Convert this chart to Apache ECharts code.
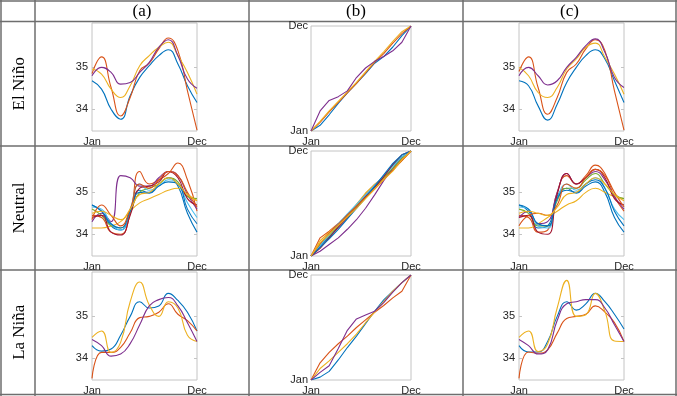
<!DOCTYPE html>
<html>
<head>
<meta charset="utf-8">
<script src="https://cdn.jsdelivr.net/npm/echarts@6/dist/echarts.min.js"></script>
<style>
  html, body { margin: 0; padding: 0; background: #fff; }
  #chart { width: 677px; height: 396px; }
</style>
</head>
<body>
<div id="chart"></div>
<script>
// labels
const colLabels = ['(a)', '(b)', '(c)'];
const rowLabels = ['El Niño', 'Neutral', 'La Niña'];
const monthNames = ['Jan', 'Dec'];
const months = [0, 1, 2, 3, 4, 5, 6, 7, 8, 9, 10, 11];
const salinityTicks = [34, 35];

// El Niño: (a) climatology, (b) time warp, (c) warped
const elNinoA = [
    [34.68, 34.48, 34.00, 33.76, 34.32, 34.76, 35.04, 35.28, 35.42, 35.08, 34.56, 34.16],
    [34.85, 35.25, 34.52, 33.84, 34.28, 34.92, 35.10, 35.44, 35.70, 35.40, 34.44, 33.50],
    [34.96, 34.84, 34.48, 34.28, 34.56, 35.04, 35.28, 35.48, 35.60, 35.28, 34.88, 34.36],
    [34.80, 35.00, 34.88, 34.60, 34.64, 34.88, 35.12, 35.48, 35.66, 35.28, 34.72, 34.50]
];
const elNinoB = [
    [0, 0.6, 1.7, 2.9, 4.0, 5.0, 6.0, 7.1, 7.8, 8.8, 10.0, 11],
    [0, 0.9, 2.0, 3.0, 4.0, 5.0, 6.1, 7.2, 8.1, 9.2, 10.2, 11],
    [0, 1.0, 2.1, 3.1, 4.1, 5.1, 6.2, 7.3, 8.3, 9.4, 10.4, 11],
    [0, 2.1, 3.2, 3.6, 4.2, 5.6, 6.6, 7.3, 7.8, 8.4, 9.3, 11]
];
const elNinoC = [
    [34.68, 34.56, 34.08, 33.74, 34.12, 34.64, 35.00, 35.28, 35.42, 35.20, 34.68, 34.16],
    [34.90, 35.25, 34.52, 33.88, 34.28, 34.88, 35.08, 35.44, 35.66, 35.40, 34.44, 33.50],
    [35.00, 34.80, 34.40, 34.28, 34.52, 34.96, 35.20, 35.48, 35.58, 35.24, 34.84, 34.36],
    [34.80, 35.00, 34.80, 34.58, 34.68, 35.00, 35.24, 35.52, 35.68, 35.36, 34.76, 34.52]
];

// Neutral
const neutralA = [
    [34.70, 34.55, 34.20, 34.10, 34.50, 35.05, 35.00, 35.20, 35.35, 35.15, 34.50, 34.05],
    [34.45, 34.40, 34.05, 34.00, 34.50, 35.50, 35.20, 35.30, 35.45, 35.70, 35.30, 34.55],
    [34.15, 34.15, 34.20, 34.30, 34.55, 34.75, 34.85, 34.95, 35.05, 35.10, 34.95, 34.80],
    [34.30, 34.50, 34.30, 35.40, 35.35, 35.15, 35.15, 35.35, 35.50, 35.40, 34.95, 34.60],
    [34.60, 34.45, 34.20, 34.15, 34.55, 35.00, 35.10, 35.20, 35.35, 35.25, 34.90, 34.85],
    [34.65, 34.60, 34.25, 34.10, 34.60, 35.20, 35.05, 35.15, 35.30, 35.20, 34.75, 34.40],
    [34.40, 34.45, 34.05, 33.98, 34.45, 35.10, 35.15, 35.25, 35.50, 35.35, 34.85, 34.70],
    [34.70, 34.55, 34.25, 34.15, 34.55, 35.00, 34.98, 35.15, 35.25, 35.20, 34.60, 34.25],
    [34.35, 34.70, 34.45, 34.20, 34.60, 35.20, 35.10, 35.30, 35.50, 35.40, 35.00, 34.65],
    [34.50, 34.55, 34.45, 34.35, 34.60, 34.95, 35.00, 35.20, 35.35, 35.20, 34.95, 34.80]
];
const neutralB = [
    [0, 1.0, 2.0, 3.1, 4.2, 5.3, 6.3, 7.3, 8.3, 9.5, 10.4, 11],
    [0, 1.9, 2.6, 3.4, 4.3, 5.3, 6.5, 7.5, 8.3, 9.0, 10.2, 11],
    [0, 1.6, 2.5, 3.3, 4.2, 5.4, 6.6, 7.5, 8.2, 9.0, 10.0, 11],
    [0, 0.5, 1.2, 1.9, 2.8, 3.8, 5.0, 6.4, 7.9, 9.2, 10.3, 11],
    [0, 1.2, 2.2, 3.2, 4.3, 5.2, 6.2, 7.2, 8.2, 9.2, 10.3, 11],
    [0, 1.1, 2.3, 3.4, 4.4, 5.4, 6.4, 7.4, 8.4, 9.4, 10.4, 11],
    [0, 0.8, 1.9, 3.0, 4.0, 5.1, 6.2, 7.2, 8.3, 9.6, 10.6, 11],
    [0, 0.9, 1.8, 2.8, 3.9, 5.0, 6.1, 7.3, 8.5, 9.7, 10.6, 11],
    [0, 1.3, 2.4, 3.3, 4.3, 5.2, 6.1, 7.0, 8.0, 9.0, 10.0, 11],
    [0, 1.4, 2.3, 3.2, 4.1, 5.0, 6.0, 7.0, 8.0, 8.9, 10.1, 11]
];
const neutralC = [
    [34.70, 34.55, 34.15, 34.20, 34.90, 35.10, 34.98, 35.15, 35.25, 35.00, 34.40, 34.05],
    [34.45, 34.40, 34.05, 34.10, 35.00, 35.40, 35.20, 35.40, 35.65, 35.45, 34.90, 34.55],
    [34.15, 34.15, 34.25, 34.40, 34.55, 34.70, 34.80, 35.00, 35.10, 35.00, 34.90, 34.85],
    [34.40, 34.55, 34.25, 34.30, 35.00, 35.45, 35.20, 35.35, 35.50, 35.30, 34.90, 34.60],
    [34.60, 34.50, 34.20, 34.20, 34.80, 35.10, 35.10, 35.30, 35.45, 35.20, 34.95, 34.85],
    [34.65, 34.60, 34.20, 34.15, 34.85, 35.20, 35.05, 35.20, 35.35, 35.10, 34.60, 34.35],
    [34.40, 34.45, 34.05, 34.00, 34.95, 35.45, 35.20, 35.35, 35.55, 35.35, 34.85, 34.70],
    [34.70, 34.60, 34.25, 34.20, 34.85, 35.05, 35.00, 35.20, 35.30, 35.10, 34.55, 34.20],
    [34.20, 34.45, 34.50, 34.45, 34.70, 35.20, 35.10, 35.35, 35.55, 35.40, 35.00, 34.65],
    [34.50, 34.55, 34.50, 34.45, 34.65, 34.95, 35.00, 35.20, 35.35, 35.20, 34.95, 34.80]
];

// La Niña
const laNinaA = [
    [34.30, 34.17, 34.22, 34.55, 35.00, 35.35, 35.20, 35.25, 35.55, 35.38, 35.10, 34.65],
    [33.52, 34.14, 34.14, 34.26, 34.61, 34.97, 35.00, 35.10, 35.30, 35.05, 34.90, 34.65],
    [34.50, 34.65, 34.14, 34.38, 35.35, 35.82, 35.27, 35.00, 35.35, 35.20, 34.55, 34.40],
    [34.45, 34.30, 34.05, 34.10, 34.35, 34.80, 35.25, 35.40, 35.45, 35.25, 34.85, 34.40]
];
const laNinaB = [
    [0, 0.3, 0.9, 2.1, 3.4, 4.6, 5.9, 7.2, 8.4, 9.3, 10.2, 11],
    [0, 1.8, 2.9, 3.8, 4.6, 5.5, 6.3, 7.1, 7.8, 8.6, 9.3, 11],
    [0, 1.2, 2.0, 2.9, 3.8, 4.8, 6.0, 7.1, 8.2, 9.3, 10.2, 11],
    [0, 0.8, 1.5, 3.3, 5.2, 6.4, 6.8, 7.2, 8.1, 9.2, 10.2, 11]
];
const laNinaC = [
    [34.30, 34.15, 34.15, 34.40, 35.00, 35.35, 35.15, 35.30, 35.55, 35.35, 35.05, 34.70],
    [33.52, 34.15, 34.12, 34.20, 34.60, 34.95, 35.00, 35.05, 35.25, 35.10, 34.85, 34.40],
    [34.50, 34.65, 34.16, 34.34, 35.20, 35.86, 35.00, 35.04, 35.55, 35.12, 34.41, 34.40],
    [34.45, 34.30, 34.10, 34.20, 34.90, 35.30, 35.35, 35.40, 35.40, 35.20, 34.80, 34.40]
];

const panels = [
    [elNinoA, elNinoB, elNinoC],
    [neutralA, neutralB, neutralC],
    [laNinaA, laNinaB, laNinaC]
];

const chart = echarts.init(document.getElementById('chart'));

const lineColors = ['#0072BD', '#D95319', '#EDB120', '#7E2F8E', '#77AC30', '#4DBEEE', '#A2142F'];
const boxColor = '#c4c4c4';
const tableColor = '#6e6e6e';
const tickFont = { fontFamily: 'Liberation Sans', fontSize: 11, color: '#262626' };
const serifFont = 'Liberation Serif';

const colLeft = [92, 311, 519];
const colWidth = [105, 100, 105];
const rowTop = [23, 148, 272];
const yMin = 33.48, yMax = 36.06;

const grids = [], xAxes = [], yAxes = [], series = [];

panels.forEach((row, r) => {
    row.forEach((curves, c) => {
        const i = grids.length;
        const warp = c === 1;
        grids.push({
            left: colLeft[c],
            width: colWidth[c],
            top: rowTop[r] + (warp ? 3 : 0),
            height: warp ? 105 : 108,
            show: true,
            borderColor: boxColor,
            borderWidth: 1
        });
        xAxes.push({
            gridIndex: i,
            type: 'value',
            min: 0,
            max: 11,
            axisLine: { show: false },
            axisTick: { show: false },
            splitLine: { show: false },
            axisLabel: {
                ...tickFont,
                margin: 5,
                customValues: [0, 11],
                formatter: v => (v === 0 ? monthNames[0] : monthNames[1])
            }
        });
        let yIndex;
        if (warp) {
            yAxes.push({
                gridIndex: i,
                type: 'value',
                min: 0,
                max: 11,
                axisLine: { show: false },
                axisTick: { show: false },
                splitLine: { show: false },
                axisLabel: {
                    ...tickFont,
                    margin: 3,
                    customValues: [0, 11],
                    formatter: v => (v === 0 ? monthNames[0] : monthNames[1])
                }
            });
            yIndex = yAxes.length - 1;
        } else {
            yAxes.push({
                gridIndex: i,
                type: 'value',
                min: yMin,
                max: yMax,
                axisLine: { show: false },
                axisTick: { show: true, inside: true, length: 3, customValues: salinityTicks, lineStyle: { color: boxColor } },
                splitLine: { show: false },
                axisLabel: { ...tickFont, margin: 4, customValues: salinityTicks }
            });
            yIndex = yAxes.length - 1;
            // mirrored ticks on the right edge of the box
            yAxes.push({
                gridIndex: i,
                type: 'value',
                position: 'right',
                min: yMin,
                max: yMax,
                axisLine: { show: false },
                axisTick: { show: true, inside: true, length: 3, customValues: salinityTicks, lineStyle: { color: boxColor } },
                splitLine: { show: false },
                axisLabel: { show: false }
            });
        }
        curves.forEach((vals, k) => {
            const color = lineColors[k % lineColors.length];
            series.push({
                type: 'line',
                xAxisIndex: i,
                yAxisIndex: yIndex,
                data: months.map((m, j) => [m, vals[j]]),
                smooth: warp ? false : 0.5,
                showSymbol: false,
                silent: true,
                lineStyle: { width: 1.1, color: color },
                itemStyle: { color: color }
            });
        });
    });
});

// table rules and header texts
const hLines = [1, 21.5, 146, 270, 394.5];
const vLines = [1, 35, 249, 463, 676];
const graphic = [];
hLines.forEach(y => graphic.push({
    type: 'line', silent: true,
    shape: { x1: 0, y1: y, x2: 677, y2: y },
    style: { stroke: tableColor, lineWidth: 1.5 }
}));
vLines.forEach(x => graphic.push({
    type: 'line', silent: true,
    shape: { x1: x, y1: 0, x2: x, y2: 396 },
    style: { stroke: tableColor, lineWidth: 1.5 }
}));
colLabels.forEach((t, c) => graphic.push({
    type: 'text', silent: true,
    x: (vLines[c + 1] + vLines[c + 2]) / 2,
    y: 11.5,
    style: {
        text: t, fontFamily: serifFont, fontSize: 17, fill: '#000',
        align: 'center', verticalAlign: 'middle',
        textAlign: 'center', textVerticalAlign: 'middle'
    }
}));
rowLabels.forEach((t, r) => graphic.push({
    type: 'text', silent: true,
    x: 20,
    y: (hLines[r + 1] + hLines[r + 2]) / 2,
    rotation: Math.PI / 2,
    style: {
        text: t, fontFamily: serifFont, fontSize: 17, fill: '#000',
        align: 'center', verticalAlign: 'middle',
        textAlign: 'center', textVerticalAlign: 'middle'
    }
}));

chart.setOption({
    animation: false,
    grid: grids,
    xAxis: xAxes,
    yAxis: yAxes,
    series: series,
    graphic: graphic
});
</script>
</body>
</html>
